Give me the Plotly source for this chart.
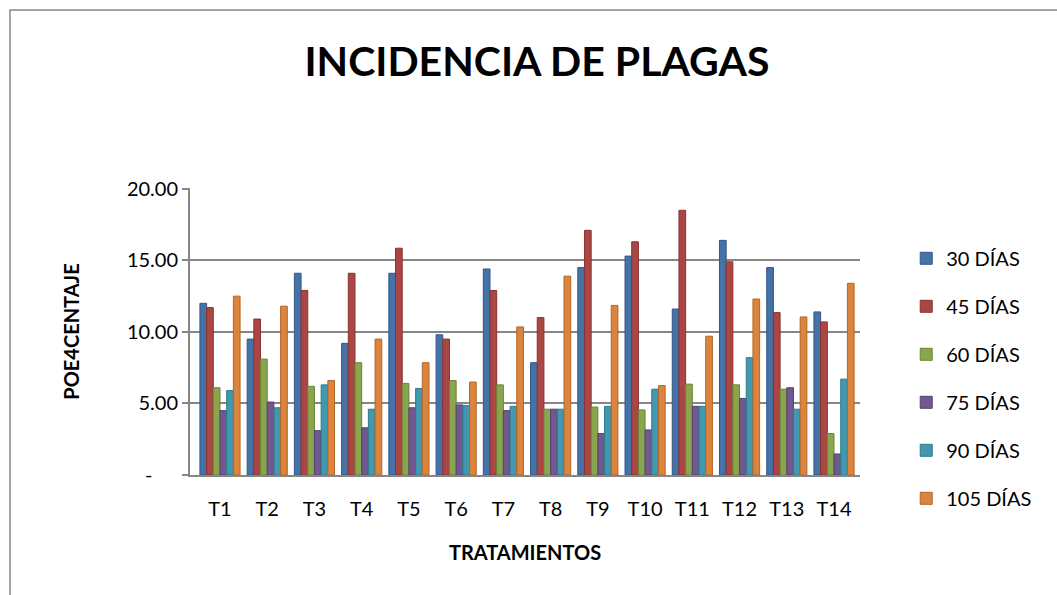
import plotly.graph_objects as go

categories = ["T1", "T2", "T3", "T4", "T5", "T6", "T7", "T8", "T9", "T10", "T11", "T12", "T13", "T14"]
series_names = ["30 DÍAS", "45 DÍAS", "60 DÍAS", "75 DÍAS", "90 DÍAS", "105 DÍAS"]

d30 = [12.0, 9.5, 14.1, 9.2, 14.1, 9.8, 14.4, 7.85, 14.5, 15.3, 11.6, 16.4, 14.5, 11.4]
d45 = [11.7, 10.9, 12.9, 14.1, 15.85, 9.5, 12.9, 11.0, 17.1, 16.3, 18.5, 14.9, 11.35, 10.7]
d60 = [6.1, 8.1, 6.2, 7.85, 6.4, 6.6, 6.3, 4.6, 4.75, 4.55, 6.35, 6.3, 6.0, 2.9]
d75 = [4.5, 5.1, 3.1, 3.3, 4.7, 4.9, 4.5, 4.6, 2.9, 3.15, 4.8, 5.35, 6.1, 1.47]
d90 = [5.9, 4.7, 6.3, 4.6, 6.05, 4.85, 4.8, 4.6, 4.8, 6.0, 4.8, 8.2, 4.6, 6.7]
d105 = [12.5, 11.8, 6.6, 9.5, 7.85, 6.5, 10.35, 13.9, 11.85, 6.25, 9.7, 12.3, 11.05, 13.4]

y_tickvals = [0, 5, 10, 15, 20]
y_ticktext = ["-\u00a0\u00a0\u00a0\u00a0\u00a0", "5.00", "10.00", "15.00", "20.00"]

colors = ["#4572a7", "#aa4643", "#89a54e", "#71588f", "#4198af", "#db843d"]
edge = ["#34578a", "#8a3330", "#6b8539", "#564270", "#2f7a8d", "#b0662a"]

series = [d30, d45, d60, d75, d90, d105]

fig = go.Figure()
for i, (name, vals) in enumerate(zip(series_names, series)):
    fig.add_trace(go.Bar(
        x=categories, y=vals, name=name,
        marker=dict(color=colors[i], line=dict(color=edge[i], width=1)),
        legendgroup=name,
    ))

font_family = "Lato, 'Open Sans', sans-serif"

L, R, T, B = 190, 197, 188, 120
W, H = 1057, 595
pw = W - L - R
ph = H - T - B

fig.update_layout(
    width=W, height=H,
    paper_bgcolor="white", plot_bgcolor="white",
    margin=dict(l=L, r=R, t=T, b=B, autoexpand=False),
    barmode="group", bargap=0.15, bargroupgap=0,
    title=dict(text="<b>INCIDENCIA DE PLAGAS</b>", x=0.508, xanchor="center",
               y=0.897, yanchor="middle",
               font=dict(family=font_family, size=41, color="black")),
    font=dict(family=font_family, size=20, color="black"),
    legend=dict(x=1.069, xanchor="left", y=0.823, yanchor="top",
                font=dict(size=20, family=font_family), tracegroupgap=19,
                itemwidth=30, bgcolor="rgba(0,0,0,0)"),
    xaxis=dict(
        title=dict(text="<b>TRATAMIENTOS</b>", font=dict(size=20), standoff=27),
        range=[-0.635, 13.55],
        showline=True, linecolor="#868686", linewidth=2, automargin=False,
        ticks="outside", ticklen=0, ticklabelstandoff=15, tickfont=dict(size=20),
    ),
    yaxis=dict(
        title=dict(text="<b>POE4CENTAJE</b>", font=dict(size=20), standoff=42),
        range=[0, 20.06], tickvals=y_tickvals, ticktext=y_ticktext,
        showgrid=True, gridcolor="#868686", gridwidth=2, automargin=False,
        showline=True, linecolor="#868686", linewidth=2,
        ticks="outside", ticklen=6, tickcolor="#868686", tickwidth=2,
        ticklabelstandoff=0,
        tickfont=dict(size=20), zeroline=False,
    ),
    shapes=[dict(type="rect", xref="paper", yref="paper",
                 x0=(10 - L) / pw, x1=(1065 - L) / pw,
                 y0=(T + ph - 600) / ph, y1=(T + ph - 10) / ph,
                 line=dict(color="#868686", width=1.5), fillcolor="rgba(0,0,0,0)")],
)

fig.write_html("out.html",
               config={"displayModeBar": False},
               post_script="document.body.style.margin='0';document.body.style.overflow='hidden';")
